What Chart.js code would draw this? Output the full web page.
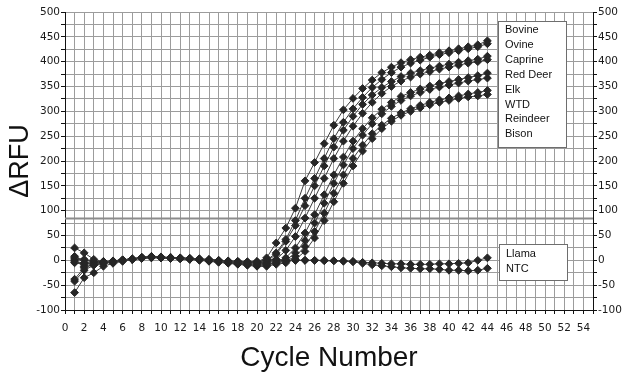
<!DOCTYPE html>
<html><head><meta charset="utf-8">
<script src="https://cdn.jsdelivr.net/npm/chart.js@4.4.1/dist/chart.umd.min.js"></script>
<style>html,body{margin:0;padding:0;background:#fff}#wrap{position:relative;width:626px;height:376px}</style>
</head><body><div id="wrap"><canvas id="c" width="626" height="376"></canvas></div>
<script>
const cycles = [1,2,3,4,5,6,7,8,9,10,11,12,13,14,15,16,17,18,19,20,21,22,23,24,25,26,27,28,29,30,31,32,33,34,35,36,37,38,39,40,41,42,43,44];
const bovine   = [25,15,2,-3,-2,0,3,6,7,6,5,5,4,3,2,0,-2,-3,-4,-3, 5,35,65,105,160,197,235,272,303,326,346,363,378,389,398,404,409,413,418,422,426,430,434,442];
const ovine    = [-65,-35,-25,-12,-6,-2,2,5,7,6,5,4,3,2,1,-1,-3,-5,-6,-5, 0,15,42,80,125,165,205,245,278,305,328,348,364,378,389,397,403,409,414,418,422,426,430,436];
const caprine  = [8,-5,-8,-5,-3,0,3,6,8,7,6,5,4,3,1,-1,-2,-4,-5,-4, -2,12,38,70,110,150,190,228,262,290,314,333,348,360,370,377,382,387,391,395,399,402,405,411];
const redDeer  = [-42,-20,-10,-6,-4,-1,2,5,6,6,5,4,3,2,0,-2,-4,-6,-8,-7, -6,2,20,48,85,125,165,205,240,270,296,318,336,350,361,369,375,380,385,389,393,397,400,404];
const elk      = [3,0,-3,-2,-1,1,3,6,7,6,5,4,3,2,1,0,-2,-3,-5,-4, -5,-2,5,25,55,92,132,172,208,240,265,287,304,318,330,338,345,351,356,360,364,368,372,377];
const wtd      = [-38,-15,-8,-5,-3,0,2,4,6,5,4,4,3,2,0,-2,-4,-6,-7,-8, -8,-5,0,15,40,75,115,155,192,225,252,275,295,310,322,331,338,344,349,353,357,361,364,367];
const reindeer = [0,-12,-10,-6,-3,0,2,5,7,6,5,4,2,1,-1,-3,-5,-7,-9,-10, -10,-5,-2,8,28,58,95,135,172,205,232,255,272,286,297,305,312,318,323,327,331,335,338,342];
const bison    = [-5,-8,-6,-4,-2,1,3,5,6,5,4,3,2,0,-2,-4,-6,-8,-10,-12, -12,-8,-5,2,18,45,80,118,155,190,220,245,265,280,292,300,307,313,318,322,326,329,331,334];
const llama    = [5,2,-2,-3,-2,0,2,4,5,5,4,3,2,1,0,-1,-2,-2,-3,-2, 2,1,0,0,0,0,0,-1,-1,-2,-4,-5,-6,-7,-7,-8,-8,-8,-7,-7,-6,-5,0,5];
const ntc      = [-3,-5,-5,-4,-2,0,2,4,6,5,5,4,3,2,1,0,-1,-2,-3,-3, 0,0,0,0,0,0,-1,-1,-2,-3,-6,-9,-11,-13,-15,-16,-17,-17,-18,-20,-20,-21,-20,-16];
const positiveNames = ['Bovine','Ovine','Caprine','Red Deer','Elk','WTD','Reindeer','Bison'];
const negativeNames = ['Llama','NTC'];
const threshold = 84;
const xRange = [0, 55];
const yRange = [-100, 500];

const seriesValues = [bovine, ovine, caprine, redDeer, elk, wtd, reindeer, bison, llama, ntc];
const seriesNames = positiveNames.concat(negativeNames);

const datasets = seriesValues.map((vals, k) => ({
  label: seriesNames[k],
  data: cycles.map((c, i) => ({x: c, y: vals[i]})),
  borderColor: '#3c3c3c',
  borderWidth: 1,
  backgroundColor: '#262626',
  pointBackgroundColor: '#262626',
  pointBorderColor: '#262626',
  pointStyle: 'rectRot',
  pointRadius: 3.9,
  pointBorderWidth: 1,
  tension: 0,
  order: 1
}));
datasets.push({
  label: 'Threshold',
  data: [{x: xRange[0], y: threshold}, {x: xRange[1], y: threshold}],
  borderColor: '#8c8c8c',
  borderWidth: 2,
  pointRadius: 0,
  order: 5
});

const legendBoxes = {
  id: 'legendBoxes',
  afterDraw(chart) {
    const ctx = chart.ctx;
    ctx.save();
    const drawBox = (x, y, w, h, names, tx, ty0) => {
      ctx.fillStyle = '#fff';
      ctx.fillRect(x, y, w, h);
      ctx.strokeStyle = '#6e6e6e';
      ctx.lineWidth = 1;
      ctx.strokeRect(x + 0.5, y + 0.5, w, h);
      ctx.fillStyle = '#111';
      ctx.font = '11px "Liberation Sans", Arial, sans-serif';
      ctx.textBaseline = 'middle';
      names.forEach((n, i) => ctx.fillText(n, tx, ty0 + i * 14.9));
    };
    drawBox(498, 21, 68, 126, positiveNames, 505, 30);
    drawBox(499, 244, 68, 36, negativeNames, 506, 254);
    ctx.restore();
  }
};

const tickFont = {family: '"DejaVu Sans", Verdana, sans-serif', size: 10.5};
new Chart(document.getElementById('c'), {
  type: 'line',
  data: {datasets},
  options: {
    responsive: false,
    animation: false,
    devicePixelRatio: 1,
    layout: {padding: {top: 12, left: 0, right: 0, bottom: 0}},
    plugins: {legend: {display: false}, tooltip: {enabled: false}},
    scales: {
      x: {
        type: 'linear', min: xRange[0], max: xRange[1],
        afterFit: s => { s.height = 66; },
        ticks: {stepSize: 1, autoSkip: false, maxRotation: 0, color: '#1a1a1a', font: tickFont, padding: 8,
          callback: v => (v % 2 === 0 && v <= 54) ? String(v) : ''},
        grid: {color: '#9c9c9c', lineWidth: 1, tickColor: '#111', tickLength: 4},
        border: {color: '#111', width: 1},
        title: {display: true, text: 'Cycle Number', color: '#111', font: {family: '"Liberation Sans", Arial, sans-serif', size: 28}, padding: {top: 0, bottom: 1}}
      },
      y: {
        type: 'linear', position: 'left', min: yRange[0], max: yRange[1],
        afterFit: s => { s.width = 65; },
        ticks: {stepSize: 25, autoSkip: false, color: '#1a1a1a', font: tickFont, padding: 1,
          callback: v => (v % 50 === 0) ? String(v) : ''},
        grid: {color: '#9c9c9c', lineWidth: 1, tickColor: '#111', tickLength: 4},
        border: {color: '#111', width: 1},
        title: {display: true, text: 'ΔRFU', color: '#111', font: {family: '"Liberation Sans", Arial, sans-serif', size: 27}, padding: {top: 4, bottom: 0}}
      },
      y2: {
        type: 'linear', position: 'right', min: yRange[0], max: yRange[1],
        afterFit: s => { s.width = 33; },
        ticks: {stepSize: 25, autoSkip: false, color: '#1a1a1a', font: tickFont, padding: 1,
          callback: v => (v % 50 === 0) ? String(v) : ''},
        grid: {drawOnChartArea: false, tickColor: '#111', tickLength: 4},
        border: {color: '#111', width: 1}
      }
    }
  },
  plugins: [legendBoxes]
});
</script>
</body></html>
